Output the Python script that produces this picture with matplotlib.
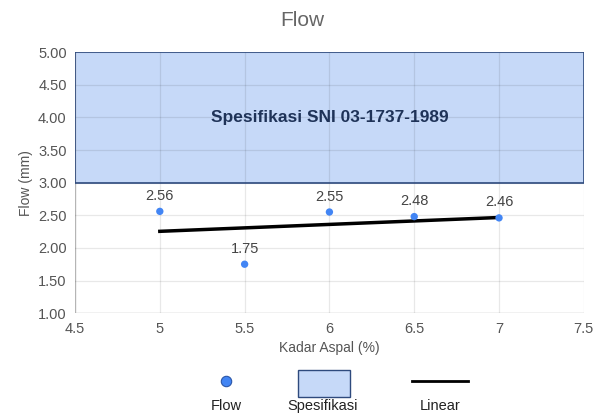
import matplotlib.pyplot as plt
import matplotlib.patches as mpatches
from matplotlib.lines import Line2D
import numpy as np

plt.rcParams['font.family'] = ['Liberation Sans', 'DejaVu Sans']

# data
kadar_aspal = [5.0, 5.5, 6.0, 6.5, 7.0]
flow = [2.56, 1.75, 2.55, 2.48, 2.46]
flow_labels = ["2.56", "1.75", "2.55", "2.48", "2.46"]
spec_low, spec_high = 3.0, 5.0
x_ticks = [4.5, 5, 5.5, 6, 6.5, 7, 7.5]
x_tick_labels = ["4.5", "5", "5.5", "6", "6.5", "7", "7.5"]
y_ticks = [1.0, 1.5, 2.0, 2.5, 3.0, 3.5, 4.0, 4.5, 5.0]

dot_color = "#4285f4"
spec_fill = "#c6d9f8"
spec_edge = "#2e4a7d"
grey = "#555555"

fig = plt.figure(figsize=(6.05, 4.17), dpi=100)
ax = fig.add_axes([0.124, 0.249, 0.841, 0.626])

# specification band
ax.add_patch(mpatches.Rectangle((4.5, spec_low), 3.0, spec_high - spec_low,
                                facecolor=spec_fill, edgecolor="none", zorder=1))
ax.add_patch(mpatches.Rectangle((4.5, spec_low), 3.0, spec_high - spec_low,
                                facecolor="none", edgecolor=spec_edge, lw=1.2, zorder=3))
ax.text(6.0, 4.0, "Spesifikasi SNI 03-1737-1989", ha="center", va="center",
        fontsize=12.5, fontweight="bold", color="#1f3358", zorder=3)

# linear trendline
k, b = np.polyfit(kadar_aspal, flow, 1)
xs = np.array([kadar_aspal[0], kadar_aspal[-1]])
ax.plot(xs, k * xs + b, color="black", lw=2.5, zorder=4)

ax.scatter(kadar_aspal, flow, s=28, color=dot_color, zorder=5, edgecolors="none")
for x, y, lab in zip(kadar_aspal, flow, flow_labels):
    ax.text(x, y + 0.13, lab, ha="center", va="bottom", fontsize=10.5, color="#444444", zorder=6)

ax.set_xlim(4.5, 7.5)
ax.set_ylim(1.0, 5.0)
ax.set_xticks(x_ticks)
ax.set_xticklabels(x_tick_labels)
ax.set_yticks(y_ticks)
ax.set_yticklabels([f"{v:.2f}" for v in y_ticks])
ax.tick_params(length=0, labelsize=10.5, labelcolor=grey, pad=6)
ax.grid(True, color="black", alpha=0.09, lw=0.9, zorder=2)
ax.set_axisbelow(False)
for s in ax.spines.values():
    s.set_visible(False)
ax.axhline(1.0, color="#c8c8c8", lw=1.0, zorder=2)
ax.axvline(4.5, color="#c8c8c8", lw=1.0, zorder=2)

ax.set_xlabel("Kadar Aspal (%)", fontsize=10, color=grey, labelpad=4)
ax.set_ylabel("Flow (mm)", fontsize=10, color=grey, labelpad=4)
fig.text(0.5, 0.952, "Flow", ha="center", va="center", fontsize=15, color="#666666")

# legend drawn below the plot, marker on top and label underneath
W, H = 605, 417
def fx(px):
    return px / W
def fy(py):
    return 1 - py / H

fig.add_artist(Line2D([fx(226)], [fy(381)], marker="o", markersize=7.5, color=dot_color,
                      markeredgecolor="#2a56a8", markeredgewidth=0.8, transform=fig.transFigure))
fig.add_artist(mpatches.Rectangle((fx(298), fy(397)), fx(52), 27 / H, facecolor=spec_fill,
                                  edgecolor=spec_edge, lw=1.0, transform=fig.transFigure))
fig.add_artist(Line2D([fx(412), fx(468)], [fy(381), fy(381)], color="black", lw=2,
                      transform=fig.transFigure))
for px, lab in [(226, "Flow"), (323, "Spesifikasi"), (440, "Linear")]:
    fig.text(fx(px), fy(406), lab, ha="center", va="center", fontsize=10.5, color="#222222")

fig.savefig("out.png", dpi=100)
